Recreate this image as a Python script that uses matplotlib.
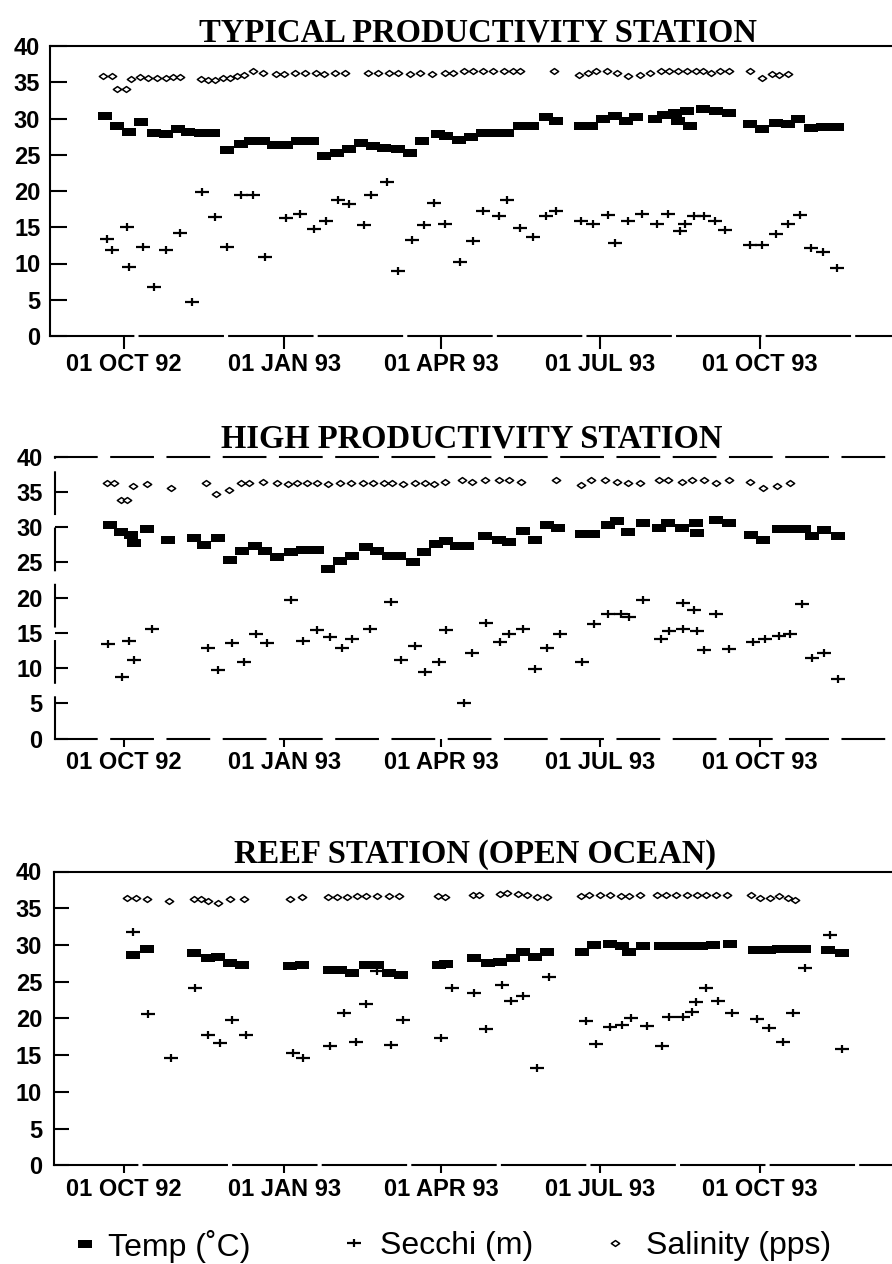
import datetime as dt
import numpy as np
import matplotlib
matplotlib.use("Agg")
import matplotlib.pyplot as plt
import matplotlib.dates as mdates
from matplotlib.path import Path
from matplotlib.ticker import FuncFormatter

# ---------------- data (days after 01 OCT 92, values) ----------------
titles = ["TYPICAL PRODUCTIVITY STATION", "HIGH PRODUCTIVITY STATION", "REEF STATION (OPEN OCEAN)"]
legend_labels = ["Temp (\u02daC)", "Secchi (m)", "Salinity (pps)"]

t1_day = [-11, -4, 3, 10, 17, 24, 31, 37, 44, 51, 59, 67, 73, 80, 86, 93, 100, 108, 115, 122,
          129, 136, 143, 149, 157, 164, 171, 180, 185, 192, 199, 206, 213, 220, 227, 234, 242, 248, 262, 268,
          275, 282, 288, 294, 305, 310, 316, 318, 323, 325, 332, 340, 347, 359, 366, 374, 381, 387, 394, 401, 409]
t1_val = [30.4, 29.0, 28.1, 29.5, 28.0, 27.8, 28.5, 28.2, 28.0, 28.0, 25.7, 26.5, 26.9, 26.9, 26.3, 26.4, 26.9, 26.9, 24.8, 25.3,
          25.8, 26.6, 26.2, 26.0, 25.8, 25.3, 26.9, 27.8, 27.6, 27.1, 27.5, 28.0, 28.0, 28.0, 28.9, 28.9, 30.2, 29.6, 29.0, 29.0,
          29.9, 30.3, 29.6, 30.2, 29.9, 30.5, 30.8, 29.7, 31.1, 29.0, 31.3, 31.1, 30.8, 29.3, 28.5, 29.4, 29.2, 30.0, 28.7, 28.8, 28.8]
s1_day = [-12, -7, -4, 1, 4, 9, 14, 19, 24, 28, 32, 44, 48, 52, 57, 61, 65, 69, 74, 80,
          87, 92, 98, 104, 110, 115, 121, 127, 140, 146, 152, 157, 164, 170, 177, 184, 189, 195, 200, 206,
          212, 218, 223, 227, 247, 261, 266, 271, 277, 283, 289, 296, 302, 308, 313, 318, 323, 328, 332, 337,
          342, 347, 359, 366, 372, 376, 381]
s1_val = [35.9, 35.9, 34.1, 34.1, 35.4, 35.7, 35.6, 35.6, 35.6, 35.7, 35.7, 35.5, 35.3, 35.3, 35.6, 35.6, 35.8, 36.0, 36.5, 36.3,
          36.2, 36.2, 36.3, 36.3, 36.3, 36.2, 36.3, 36.3, 36.3, 36.3, 36.3, 36.3, 36.2, 36.3, 36.2, 36.3, 36.3, 36.5, 36.5, 36.5,
          36.5, 36.6, 36.6, 36.6, 36.6, 36.0, 36.3, 36.5, 36.5, 36.3, 35.9, 36.0, 36.3, 36.5, 36.5, 36.6, 36.6, 36.6, 36.5, 36.3,
          36.6, 36.6, 36.5, 35.6, 36.2, 36.0, 36.2]
k1_day = [-10, -7, 2, 3, 11, 17, 24, 32, 39, 45, 52, 59, 67, 74, 81, 93, 101, 109, 116, 123,
          129, 138, 142, 151, 157, 165, 172, 178, 184, 193, 200, 206, 215, 220, 227, 235, 242, 248, 262, 269,
          278, 282, 289, 297, 306, 312, 319, 322, 327, 333, 339, 345, 359, 366, 374, 381, 388, 394, 401, 409]
k1_val = [13.4, 11.8, 15.0, 9.5, 12.3, 6.8, 11.8, 14.2, 4.7, 19.9, 16.4, 12.3, 19.4, 19.5, 10.9, 16.3, 16.8, 14.8, 15.9, 18.7,
          18.2, 15.3, 19.4, 21.3, 9.0, 13.2, 15.3, 18.4, 15.5, 10.2, 13.1, 17.2, 16.6, 18.7, 14.9, 13.6, 16.6, 17.2, 15.8, 15.5,
          16.7, 12.8, 15.8, 16.8, 15.5, 16.8, 14.5, 15.4, 16.6, 16.6, 15.8, 14.6, 12.6, 12.6, 14.1, 15.5, 16.7, 12.1, 11.6, 9.4]

t2_day = [-8, -2, 4, 6, 13, 25, 40, 46, 54, 61, 68, 75, 81, 88, 96, 103, 111, 117, 124, 131,
          139, 145, 152, 158, 166, 172, 179, 185, 191, 197, 207, 215, 221, 229, 236, 243, 249, 263, 269, 278,
          283, 289, 298, 307, 312, 320, 328, 329, 340, 347, 360, 367, 376, 384, 390, 395, 402, 410]
t2_val = [30.3, 29.3, 28.9, 27.8, 29.7, 28.2, 28.5, 27.4, 28.4, 25.3, 26.6, 27.3, 26.6, 25.8, 26.4, 26.8, 26.8, 24.1, 25.2, 25.9,
          27.1, 26.6, 25.9, 25.9, 25.1, 26.5, 27.6, 28.0, 27.3, 27.3, 28.7, 28.2, 27.9, 29.5, 28.2, 30.3, 29.8, 29.0, 29.0, 30.3,
          30.9, 29.3, 30.5, 29.8, 30.5, 29.9, 30.5, 29.1, 31.0, 30.6, 28.9, 28.2, 29.7, 29.7, 29.7, 28.7, 29.6, 28.7]
s2_day = [-10, -6, -2, 2, 5, 13, 27, 47, 53, 60, 67, 72, 80, 88, 94, 99, 105, 111, 117, 124,
          130, 137, 143, 149, 154, 160, 167, 173, 178, 184, 194, 200, 207, 215, 221, 228, 248, 262, 268, 276,
          283, 289, 296, 307, 312, 320, 326, 333, 340, 347, 359, 367, 375, 382]
s2_val = [36.3, 36.2, 33.9, 33.9, 35.8, 36.1, 35.6, 36.2, 34.7, 35.2, 36.2, 36.3, 36.4, 36.3, 36.1, 36.2, 36.3, 36.2, 36.1, 36.2,
          36.3, 36.2, 36.3, 36.2, 36.2, 36.1, 36.3, 36.2, 36.1, 36.4, 36.6, 36.4, 36.6, 36.6, 36.6, 36.4, 36.6, 35.9, 36.6, 36.6,
          36.4, 36.2, 36.3, 36.6, 36.6, 36.4, 36.6, 36.6, 36.3, 36.6, 36.4, 35.5, 35.8, 36.3]
k2_day = [-9, -1, 3, 6, 16, 48, 54, 62, 69, 76, 82, 96, 103, 111, 118, 125, 131, 141, 153, 159,
          167, 173, 181, 185, 195, 200, 208, 216, 221, 229, 236, 243, 250, 263, 270, 278, 285, 290, 298, 308,
          313, 321, 321, 327, 329, 333, 340, 347, 361, 368, 376, 382, 389, 395, 402, 410]
k2_val = [13.4, 8.7, 13.9, 11.1, 15.5, 12.9, 9.7, 13.5, 10.8, 14.8, 13.5, 19.6, 13.9, 15.4, 14.4, 12.9, 14.1, 15.6, 19.4, 11.2,
          13.1, 9.4, 10.8, 15.4, 5.1, 12.1, 16.4, 13.7, 14.8, 15.6, 9.8, 12.9, 14.8, 10.8, 16.3, 17.7, 17.7, 17.2, 19.6, 14.1,
          15.2, 15.5, 19.2, 18.2, 15.3, 12.5, 17.7, 12.7, 13.7, 14.1, 14.5, 14.8, 19.1, 11.4, 12.1, 8.5]

t3_day = [5, 13, 40, 48, 54, 61, 68, 95, 102, 118, 124, 131, 139, 145, 152, 159, 181, 185, 201, 209,
          216, 223, 229, 236, 243, 263, 270, 279, 286, 290, 298, 308, 315, 323, 331, 338, 348, 362, 370, 376,
          384, 390, 404, 412]
t3_val = [28.6, 29.4, 28.9, 28.2, 28.4, 27.5, 27.3, 27.1, 27.3, 26.6, 26.6, 26.2, 27.3, 27.3, 26.2, 25.9, 27.3, 27.4, 28.2, 27.5,
          27.7, 28.2, 29.1, 28.3, 29.1, 29.1, 30.0, 30.2, 29.8, 29.1, 29.8, 29.9, 29.9, 29.9, 29.9, 30.0, 30.2, 29.3, 29.3, 29.5,
          29.5, 29.5, 29.3, 28.9]
s3_day = [2, 7, 13, 26, 40, 44, 48, 54, 61, 69, 95, 102, 117, 122, 128, 134, 139, 145, 152, 158,
          180, 184, 200, 204, 216, 220, 226, 231, 237, 243, 262, 267, 273, 279, 285, 290, 296, 306, 311, 317,
          323, 329, 334, 340, 346, 360, 365, 371, 376, 381, 385]
s3_val = [36.4, 36.4, 36.2, 36.0, 36.2, 36.2, 36.0, 35.7, 36.2, 36.2, 36.2, 36.5, 36.5, 36.5, 36.5, 36.6, 36.7, 36.7, 36.7, 36.6,
          36.7, 36.5, 36.8, 36.8, 37.0, 37.1, 37.0, 36.8, 36.5, 36.5, 36.6, 36.8, 36.8, 36.8, 36.7, 36.7, 36.8, 36.8, 36.8, 36.8,
          36.8, 36.8, 36.8, 36.8, 36.8, 36.8, 36.4, 36.4, 36.6, 36.4, 36.1]
k3_day = [5, 14, 27, 41, 48, 55, 62, 70, 97, 103, 118, 126, 133, 139, 145, 153, 160, 182, 188, 201,
          208, 217, 222, 229, 237, 244, 265, 271, 279, 286, 291, 300, 309, 313, 321, 326, 328, 334, 341, 349,
          363, 370, 378, 384, 391, 405, 412]
k3_val = [31.7, 20.6, 14.6, 24.1, 17.7, 16.6, 19.8, 17.7, 15.3, 14.6, 16.3, 20.8, 16.8, 21.9, 26.4, 16.4, 19.8, 17.4, 24.2, 23.4,
          18.5, 24.5, 22.4, 23.1, 13.3, 25.6, 19.6, 16.5, 18.8, 19.1, 20.1, 19.0, 16.2, 20.2, 20.2, 20.9, 22.2, 24.1, 22.4, 20.7,
          19.9, 18.7, 16.8, 20.8, 26.8, 31.3, 15.8]

y_ticks = [0, 5, 10, 15, 20, 25, 30, 35, 40]

# ---------------- style ----------------
plt.rcParams["font.family"] = ["Liberation Sans", "DejaVu Sans"]
plt.rcParams["font.weight"] = "bold"

W, H = 892, 1264
fig = plt.figure(figsize=(W / 100, H / 100), dpi=100)

BASE = dt.datetime(1992, 10, 1)
base_num = mdates.date2num(BASE)
PX_PER_DAY = 1.7425
X0_PX = 124.0  # pixel of 01 OCT 92


def to_dates(days):
    return [BASE + dt.timedelta(days=int(d)) for d in days]


rect_marker = Path([(-1, -0.6), (1, -0.6), (1, 0.6), (-1, 0.6), (-1, -0.6)],
                   [Path.MOVETO, Path.LINETO, Path.LINETO, Path.LINETO, Path.CLOSEPOLY])
plus_marker = Path([(-1, 0), (1, 0), (0, -0.65), (0, 0.65)],
                   [Path.MOVETO, Path.LINETO, Path.MOVETO, Path.LINETO])
diamond_marker = Path([(-1, 0), (0, 0.7), (1, 0), (0, -0.7), (-1, 0)],
                      [Path.MOVETO, Path.LINETO, Path.LINETO, Path.LINETO, Path.CLOSEPOLY])

panels = [
    dict(title=titles[0], t=(t1_day, t1_val), s=(s1_day, s1_val), k=(k1_day, k1_val),
         box=(50, 46, 336), tcx=478, tby=42, ypad=7, ylen=12, xlen=9, dashed=False),
    dict(title=titles[1], t=(t2_day, t2_val), s=(s2_day, s2_val), k=(k2_day, k2_val),
         box=(55, 456.5, 738.6), tcx=472, tby=448, ypad=9, ylen=9, xlen=6, dashed=True),
    dict(title=titles[2], t=(t3_day, t3_val), s=(s3_day, s3_val), k=(k3_day, k3_val),
         box=(54, 871.5, 1165.4), tcx=475, tby=863, ypad=8.5, ylen=11, xlen=6, dashed=False),
]

fmt = FuncFormatter(lambda x, pos: mdates.num2date(x).strftime("%d %b %y").upper())
handles = None
for p in panels:
    left, top, bottom = p["box"]
    ax = fig.add_axes([left / W, 1 - bottom / H, (W - left) / W, (bottom - top) / H])
    ht, = ax.plot(to_dates(p["t"][0]), p["t"][1], ls="none", marker=rect_marker, ms=10,
                  mfc="black", mec="black", mew=0)
    hk, = ax.plot(to_dates(p["k"][0]), p["k"][1], ls="none", marker=plus_marker, ms=9.5,
                  mfc="none", mec="black", mew=1.6)
    hs, = ax.plot(to_dates(p["s"][0]), p["s"][1], ls="none", marker=diamond_marker, ms=6,
                  mfc="white", mec="black", mew=1.1)
    if handles is None:
        handles = [ht, hk, hs]
    ax.set_ylim(0, 40)
    ax.set_yticks(y_ticks)
    day_left = (left - X0_PX) / PX_PER_DAY
    day_right = (W - X0_PX) / PX_PER_DAY
    ax.set_xlim(base_num + day_left, base_num + day_right)
    ax.xaxis.set_major_locator(mdates.MonthLocator(bymonth=[1, 4, 7, 10], bymonthday=1))
    ax.xaxis.set_major_formatter(fmt)
    ax.spines["right"].set_visible(False)
    for side in ("left", "top", "bottom"):
        ax.spines[side].set_linewidth(1.5)
        if p["dashed"]:
            ax.spines[side].set_linestyle((0, (20, 7)))
    if not p["dashed"]:
        ax.spines["bottom"].set_linestyle((0, (40, 3)))
    ax.tick_params(axis="y", direction="in", length=p["ylen"], width=1.5, pad=p["ypad"], labelsize=17)
    ax.tick_params(axis="x", direction="out", length=p["xlen"], width=1.5, pad=3, labelsize=17)
    fig.text(p["tcx"] / W, 1 - p["tby"] / H, p["title"], ha="center", va="baseline",
             family="Liberation Serif", weight="bold", size=23.5)

# legend: three separate entries placed like the reference
leg_specs = [(72, 0.33), (341, 0.42), (602, 0.57)]
for h, lab, (xa, pad) in zip(handles, legend_labels, leg_specs):
    fig.legend([h], [lab], loc="center left", bbox_to_anchor=(xa / W, 1 - 1246 / H),
               frameon=False, borderpad=0, borderaxespad=0, handlelength=0.8,
               handletextpad=pad, numpoints=1,
               prop=dict(family="Liberation Sans", weight="normal", size=23))

fig.savefig("out.png", dpi=100)
